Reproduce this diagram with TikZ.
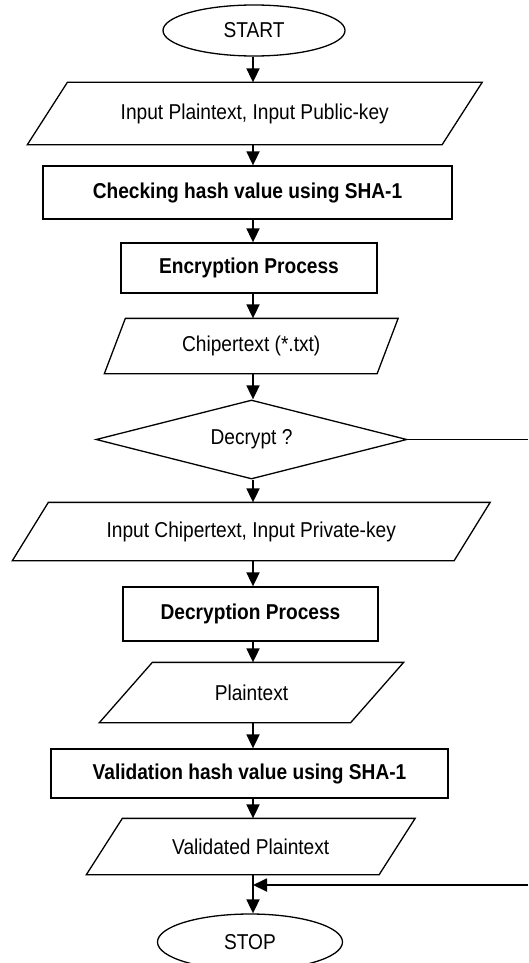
\documentclass[tikz,border=0pt]{standalone}
\usepackage{fontspec}
\setmainfont{Liberation Sans}[FakeStretch=0.89]
\usetikzlibrary{arrows.meta,shapes.geometric,calc}
\begin{document}
\begin{tikzpicture}[x=1pt,y=-1pt,
  every node/.style={font=\fontsize{21.5}{24}\selectfont, inner sep=0pt, line width=1.3pt},
  term/.style={ellipse, draw},
  procbox/.style={rectangle, draw},
  iobox/.style={rectangle, draw=none},
  decis/.style={diamond, draw, aspect=3.9},
  para/.style={line width=1.3pt, line join=miter},
  arr/.style={line width=1.8pt, -{Triangle[length=14pt,width=13pt]}},
  conn/.style={line width=1.8pt}
]
\useasboundingbox (0,0) rectangle (528,963);
\fill[white] (0,0) rectangle (528,963);

% nodes
\node[term, minimum width=182pt, minimum height=51pt] (start) at (254,30.5) {START};
\node[iobox, minimum width=413.5pt, minimum height=61pt] (in1) at (254.75,113.5) {Input Plaintext, Input Public-key};
\node[procbox, minimum width=409pt, minimum height=53pt] (chk) at (247.5,192.5) {\textbf{Checking hash value using SHA-1}};
\node[procbox, minimum width=256pt, minimum height=50pt] (enc) at (249,268) {\textbf{Encryption Process}};
\node[iobox, minimum width=271.5pt, minimum height=54pt] (ct) at (251.25,346) {Chipertext (*.txt)};
\node[decis, minimum width=311pt, minimum height=79pt] (dec) at (251.5,439.5) {};
\node at (251.5,439.5) {Decrypt ?};
\node[iobox, minimum width=440.5pt, minimum height=57pt] (in2) at (251.25,531.5) {Input Chipertext, Input Private-key};
\node[procbox, minimum width=255pt, minimum height=54pt] (dp) at (250.5,614) {\textbf{Decryption Process}};
\node[iobox, minimum width=250pt, minimum height=59pt] (pt) at (251.5,692.5) {Plaintext};
\node[procbox, minimum width=397pt, minimum height=49pt] (val) at (249.5,773.5) {\textbf{Validation hash value using SHA-1}};
\node[iobox, minimum width=291.5pt, minimum height=55pt] (vpt) at (250.75,846.5) {Validated Plaintext};
\node[term, minimum width=185pt, minimum height=56pt] (stop) at (250,942) {STOP};

% parallelogram outlines
\foreach \n/\s in {in1/20, ct/10.5, in2/18, pt/26.5, vpt/18}{
  \draw[para] ([xshift=\s pt]\n.north west) -- ([xshift=\s pt]\n.north east)
    -- ([xshift=-\s pt]\n.south east) -- ([xshift=-\s pt]\n.south west) -- cycle;
}

% spine
\coordinate (sp) at (253,0);
\coordinate (rt1) at (528,439.5);
\coordinate (rt2) at (528,885);
\coordinate (jn) at (253,885);

\draw[arr] (start.south -| sp) -- (in1.north -| sp);
\draw[arr] (in1.south -| sp) -- (chk.north -| sp);
\draw[arr] (chk.south -| sp) -- (enc.north -| sp);
\draw[arr] (enc.south -| sp) -- (ct.north -| sp);
\draw[arr] (ct.south -| sp) -- (dec.north -| sp);
\draw[arr] (dec.south -| sp) -- (in2.north -| sp);
\draw[arr] (in2.south -| sp) -- (dp.north -| sp);
\draw[arr] (dp.south -| sp) -- (pt.north -| sp);
\draw[arr] (pt.south -| sp) -- (val.north -| sp);
\draw[arr] (val.south -| sp) -- (vpt.north -| sp);
\draw[arr] (vpt.south -| sp) -- (stop.north -| sp);
\draw[conn] (dec.east) -- (rt1);
\draw[arr] (rt2) -- (jn);
\end{tikzpicture}
\end{document}
